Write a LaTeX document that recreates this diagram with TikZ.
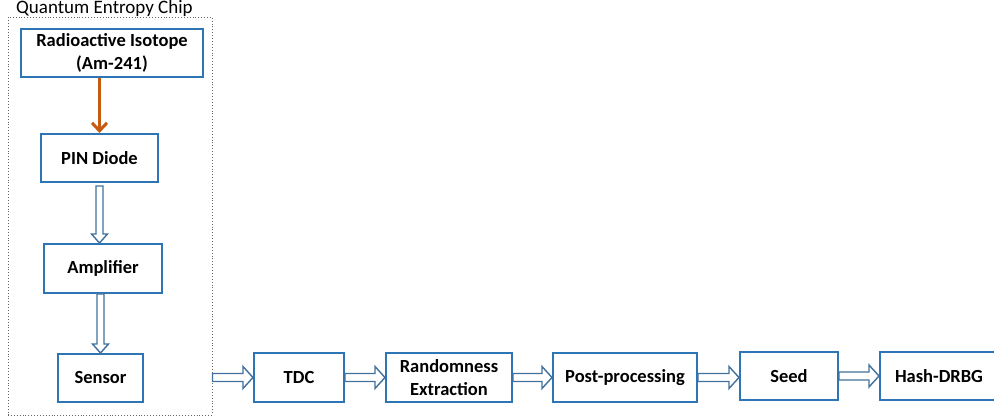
\documentclass[tikz,border=0pt]{standalone}
\usepackage{fontspec}
\setmainfont{Carlito}
\usetikzlibrary{calc,arrows.meta}
\definecolor{boxblue}{HTML}{2E75B6}
\definecolor{arrblue}{HTML}{41719C}
\definecolor{orangearr}{HTML}{C55A11}
\tikzset{
  blockbox/.style={draw=boxblue, line width=2pt, fill=white, inner sep=0pt, align=center,
    font=\fontsize{18.5}{23.5}\selectfont\bfseries},
  hollow/.style={draw=arrblue, line width=1.4pt, fill=white, line join=miter},
}
% vertical hollow arrow from #1 down to #2
\newcommand\vhollow[2]{%
  \draw[hollow] let \p1=(#1), \p2=(#2) in
    ({\x1-3.5pt},{\y1}) -- ({\x1+3.5pt},{\y1}) -- ({\x1+3.5pt},{\y2+9pt}) -- ({\x1+8pt},{\y2+9pt})
    -- ({\x1},{\y2}) -- ({\x1-8pt},{\y2+9pt}) -- ({\x1-3.5pt},{\y2+9pt}) -- cycle;}
% horizontal hollow arrow from #1 right to #2
\newcommand\hhollow[2]{%
  \draw[hollow] let \p1=(#1), \p2=(#2) in
    ({\x1},{\y1+4pt}) -- ({\x1},{\y1-4pt}) -- ({\x2-10pt},{\y1-4pt}) -- ({\x2-10pt},{\y1-11pt})
    -- ({\x2},{\y1}) -- ({\x2-10pt},{\y1+11pt}) -- ({\x2-10pt},{\y1+4pt}) -- cycle;}
\begin{document}
\begin{tikzpicture}[x=1pt,y=-1pt]
\useasboundingbox (0,0) rectangle (994,419);
% frame
\node[draw=black!60, dotted, line width=0.9pt, minimum width=204pt, minimum height=398pt, inner sep=0pt] (chip) at (110,216) {};
\node[anchor=base west, inner sep=0pt, font=\fontsize{19}{22}\selectfont] (title) at (16,13.5) {Quantum Entropy Chip};
% boxes
\node[blockbox, minimum width=182pt, minimum height=48pt] (radio) at (112,53) {Radioactive Isotope\\(Am-241)};
\node[blockbox, minimum width=117pt, minimum height=48pt] (pin) at (99.5,158) {PIN Diode};
\node[blockbox, minimum width=118pt, minimum height=49pt] (amp) at (103,268.5) {Amplifier};
\node[blockbox, minimum width=85pt, minimum height=48pt] (sensor) at (100.5,378) {Sensor};
\node[blockbox, minimum width=90pt, minimum height=49pt] (tdc) at (299,377.5) {TDC};
\node[blockbox, minimum width=126pt, minimum height=49pt] (rand) at (449,377.5) {Randomness\\Extraction};
\node[blockbox, minimum width=144pt, minimum height=49pt] (post) at (625,377.5) {Post-processing};
\node[blockbox, minimum width=98pt, minimum height=48pt] (seed) at (789,376) {Seed};
\node[blockbox, minimum width=118pt, minimum height=48pt] (hash) at (939,376) {Hash-DRBG};
% orange arrow
\draw[orangearr, line width=3pt, -{Straight Barb[length=8pt,width=15pt,line width=3pt]}]
  (pin.north |- radio.south) -- (pin.north);
% hollow arrows
\vhollow{$(pin.south)+(0,3)$}{pin.south |- amp.north}
\vhollow{sensor.north |- amp.south}{sensor.north}
\hhollow{chip.east |- tdc.west}{tdc.west}
\hhollow{tdc.east}{rand.west}
\hhollow{rand.east}{post.west}
\hhollow{post.east}{seed.west}
\hhollow{seed.east}{hash.west}
\end{tikzpicture}
\end{document}
